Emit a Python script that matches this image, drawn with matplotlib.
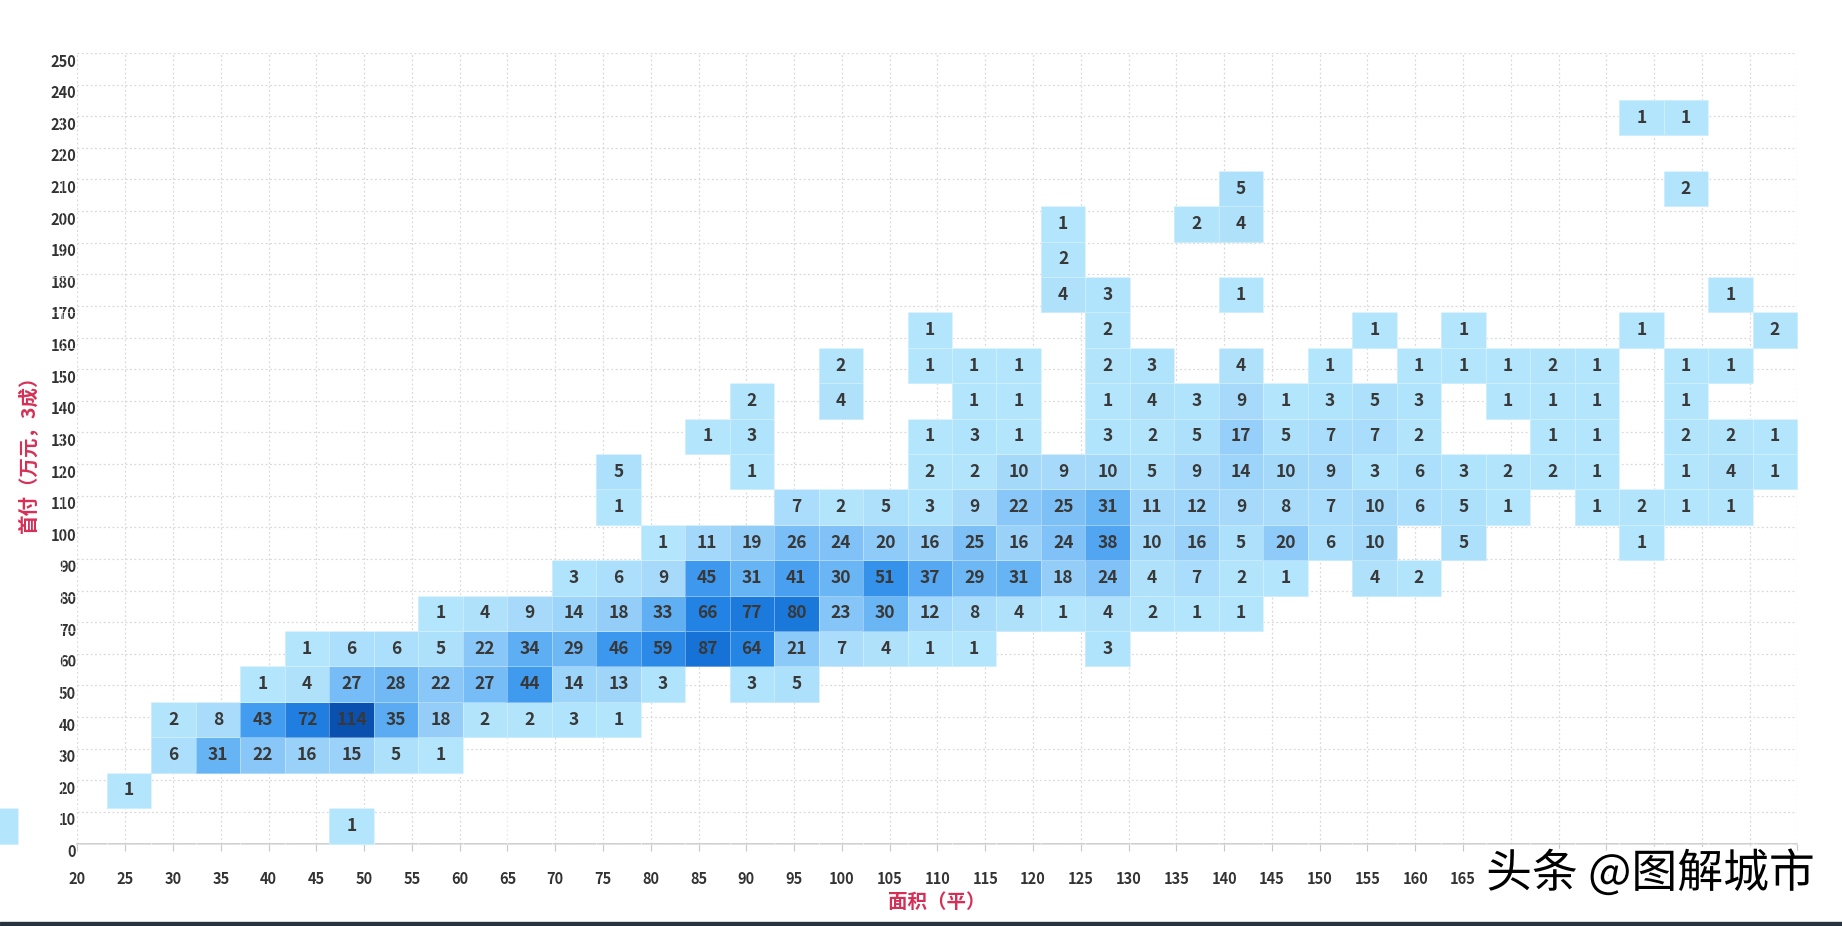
import numpy as np
import matplotlib
matplotlib.use("Agg")
import matplotlib.pyplot as plt
from matplotlib.colors import LinearSegmentedColormap, Normalize
from matplotlib.transforms import ScaledTranslation
import matplotlib.patheffects as pe

plt.rcParams['font.family'] = ['Noto Sans CJK SC', 'DejaVu Sans']

# heatmap categories (area, down payment)
area_cat = list(range(10, 215, 5))      # 10 .. 210
pay_cat = list(range(0, 210, 10))       # 0 .. 200

# counts per down-payment row: {area: count}
rows = {
    0:   {10: 1, 50: 1},
    10:  {25: 1},
    20:  {30: 6, 35: 31, 40: 22, 45: 16, 50: 15, 55: 5, 60: 1},
    30:  {30: 2, 35: 8, 40: 43, 45: 72, 50: 114, 55: 35, 60: 18, 65: 2, 70: 2, 75: 3, 80: 1},
    40:  {40: 1, 45: 4, 50: 27, 55: 28, 60: 22, 65: 27, 70: 44, 75: 14, 80: 13, 85: 3,
          95: 3, 100: 5},
    50:  {45: 1, 50: 6, 55: 6, 60: 5, 65: 22, 70: 34, 75: 29, 80: 46, 85: 59, 90: 87,
          95: 64, 100: 21, 105: 7, 110: 4, 115: 1, 120: 1, 135: 3},
    60:  {60: 1, 65: 4, 70: 9, 75: 14, 80: 18, 85: 33, 90: 66, 95: 77, 100: 80, 105: 23,
          110: 30, 115: 12, 120: 8, 125: 4, 130: 1, 135: 4, 140: 2, 145: 1, 150: 1},
    70:  {75: 3, 80: 6, 85: 9, 90: 45, 95: 31, 100: 41, 105: 30, 110: 51, 115: 37, 120: 29,
          125: 31, 130: 18, 135: 24, 140: 4, 145: 7, 150: 2, 155: 1, 165: 4, 170: 2},
    80:  {85: 1, 90: 11, 95: 19, 100: 26, 105: 24, 110: 20, 115: 16, 120: 25, 125: 16,
          130: 24, 135: 38, 140: 10, 145: 16, 150: 5, 155: 20, 160: 6, 165: 10, 175: 5, 195: 1},
    90:  {80: 1, 100: 7, 105: 2, 110: 5, 115: 3, 120: 9, 125: 22, 130: 25, 135: 31, 140: 11,
          145: 12, 150: 9, 155: 8, 160: 7, 165: 10, 170: 6, 175: 5, 180: 1,
          190: 1, 195: 2, 200: 1, 205: 1},
    100: {80: 5, 95: 1, 115: 2, 120: 2, 125: 10, 130: 9, 135: 10, 140: 5, 145: 9, 150: 14,
          155: 10, 160: 9, 165: 3, 170: 6, 175: 3, 180: 2, 185: 2, 190: 1,
          200: 1, 205: 4, 210: 1},
    110: {90: 1, 95: 3, 115: 1, 120: 3, 125: 1, 135: 3, 140: 2, 145: 5, 150: 17, 155: 5,
          160: 7, 165: 7, 170: 2, 185: 1, 190: 1, 200: 2, 205: 2, 210: 1},
    120: {95: 2, 105: 4, 120: 1, 125: 1, 135: 1, 140: 4, 145: 3, 150: 9, 155: 1, 160: 3,
          165: 5, 170: 3, 180: 1, 185: 1, 190: 1, 200: 1},
    130: {105: 2, 115: 1, 120: 1, 125: 1, 135: 2, 140: 3, 150: 4, 160: 1, 170: 1, 175: 1,
          180: 1, 185: 2, 190: 1, 200: 1, 205: 1},
    140: {115: 1, 135: 2, 165: 1, 175: 1, 195: 1, 210: 2},
    150: {130: 4, 135: 3, 150: 1, 205: 1},
    160: {130: 2},
    170: {130: 1, 145: 2, 150: 4},
    180: {150: 5, 200: 2},
    190: {},
    200: {195: 1, 200: 1},
}

# displayed value axes
x_ticks = list(range(20, 205, 5))
x_labels = [str(v) for v in range(20, 200, 5)] + ['']
y_ticks = list(range(0, 260, 10))

grid = np.zeros((len(pay_cat), len(area_cat)))
for p, d in rows.items():
    for a, n in d.items():
        grid[pay_cat.index(p), area_cat.index(a)] = n
masked = np.ma.masked_equal(grid, 0)

cmap = LinearSegmentedColormap.from_list('blues', [
    (0.0, '#b3e5fc'), (0.08, '#a5d9fa'), (0.168, '#8fcbf8'), (0.265, '#66b3f4'),
    (0.389, '#3d98ee'), (0.575, '#2283e4'), (0.761, '#1672d6'), (1.0, '#0a50ae')])
norm = Normalize(1, 114)

fig = plt.figure(figsize=(18.42, 9.26), dpi=100)
rect = [0.04207, 0.08909, 0.93377, 0.85367]

# value axes with grid
ax = fig.add_axes(rect)
ax.set_xlim(20, 200)
ax.set_ylim(0, 250)
ax.set_xticks(x_ticks)
ax.set_xticklabels(x_labels)
ax.set_yticks(y_ticks)
ax.grid(True, linestyle=(0, (1.5, 2)), color='#d9d9d9', linewidth=0.9)
for s in ['top', 'right', 'left']:
    ax.spines[s].set_visible(False)
ax.spines['bottom'].set_color('#c8c8c8')
ax.spines['bottom'].set_linewidth(1.2)
ax.tick_params(axis='x', length=5, color='#c8c8c8', pad=15, labelsize=10.5, labelcolor='#333333')
ax.tick_params(axis='y', length=0, pad=1, labelsize=10.5, labelcolor='#333333')
for lab in ax.get_xticklabels() + ax.get_yticklabels():
    lab.set_fontweight('bold')
for lab in ax.get_yticklabels():
    lab.set_transform(lab.get_transform() + ScaledTranslation(0, -7 / 100, fig.dpi_scale_trans))

# heatmap on category axes
axh = fig.add_axes(rect)
axh.set_xlim(1.838, 40.51)
axh.set_ylim(-0.5, 21.83)
axh.axis('off')
axh.patch.set_alpha(0)
xe = np.arange(len(area_cat) + 1) - 0.5
ye = np.arange(len(pay_cat) + 1) - 0.5
mesh = axh.pcolormesh(xe, ye, masked, cmap=cmap, norm=norm,
                      edgecolors=(1, 1, 1, 0.35), linewidth=0.6)
mesh.set_clip_on(False)
for j in range(len(pay_cat)):
    for i in range(len(area_cat)):
        n = grid[j, i]
        if n > 0 and i > 1.838:
            axh.text(i, j, str(int(n)), ha='center', va='center', fontsize=12.5,
                     fontweight='bold', color='#383838')

fig.text(937 / 1842, 1 - 903 / 926, '面积（平）', ha='center', va='center',
         fontsize=14, fontweight='bold', color='#d62f56')
fig.text(29 / 1842, 1 - 450 / 926, '首付（万元，3成）', ha='center', va='center',
         rotation=90, fontsize=14, fontweight='bold', color='#d62f56')

fig.text(1815 / 1842, 1 - 874 / 926, '头条 @图解城市', ha='right', va='center',
         fontsize=33, color='black', zorder=10,
         path_effects=[pe.withStroke(linewidth=6, foreground='white')])

fig.patches.append(plt.Rectangle((0, 0), 1, 4 / 926, transform=fig.transFigure,
                                 color='#27333d', zorder=0))

fig.savefig('out.png', dpi=100)
